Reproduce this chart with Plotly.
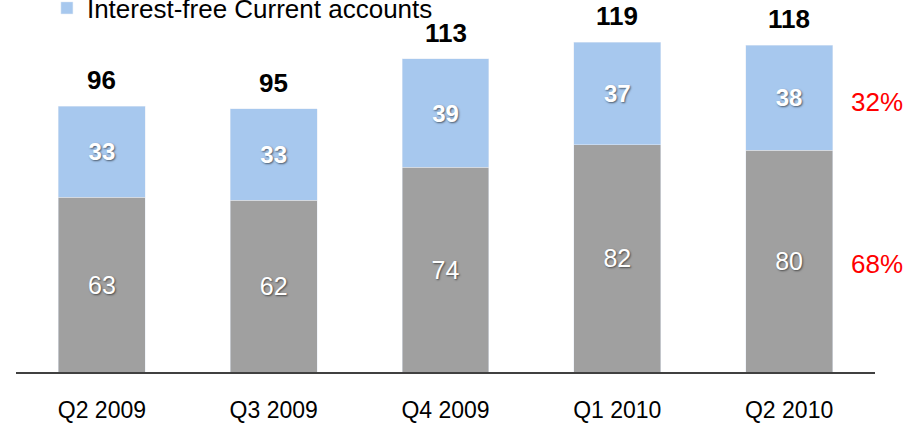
import plotly.graph_objects as go

categories = ["Q2 2009", "Q3 2009", "Q4 2009", "Q1 2010", "Q2 2010"]
other_values = [63, 62, 74, 82, 80]
interest_free = [33, 33, 39, 37, 38]
legend_label = "Interest-free Current accounts"

totals = [a + b for a, b in zip(other_values, interest_free)]

FONT = "Liberation Sans, Arial, sans-serif"
GRAY = "#A0A0A0"
BLUE = "#A7C8EE"
SHADOW = "1px 1px 2px rgba(0,0,0,0.55)"

fig = go.Figure()
fig.add_trace(go.Bar(
    x=categories, y=other_values, marker_color=GRAY, showlegend=False,
    text=[str(v) for v in other_values], textposition="inside",
    insidetextanchor="middle", textangle=0, constraintext="none",
    textfont=dict(family=FONT, size=25, color="white", shadow=SHADOW),
    hoverinfo="skip",
))
fig.add_trace(go.Bar(
    x=categories, y=interest_free, marker_color=BLUE, name=legend_label,
    text=[str(v) for v in interest_free], textposition="inside",
    insidetextanchor="middle", textangle=0, constraintext="none",
    textfont=dict(family=FONT, size=24, color="white", weight="bold", shadow=SHADOW),
    hoverinfo="skip",
))

annotations = []
for c, t in zip(categories, totals):
    annotations.append(dict(
        x=c, y=t, xref="x", yref="y", text=f"<b>{t}</b>", showarrow=False,
        yanchor="bottom", yshift=9, font=dict(family=FONT, size=26, color="black"),
    ))

last = len(categories) - 1
share_blue = round(100 * interest_free[last] / totals[last])
share_gray = 100 - share_blue
annotations.append(dict(
    x=last + 0.346, y=other_values[last] + interest_free[last] / 2, xref="x", yref="y",
    text=f"{share_blue}%", showarrow=False, xanchor="left", yshift=-4,
    font=dict(family=FONT, size=26, color="#FF0000"),
))
annotations.append(dict(
    x=last + 0.346, y=other_values[last] / 2, xref="x", yref="y",
    text=f"{share_gray}%", showarrow=False, xanchor="left", yshift=-3,
    font=dict(family=FONT, size=26, color="#FF0000"),
))

fig.update_layout(
    barmode="stack",
    bargap=0.494,
    width=907, height=423,
    margin=dict(l=16, r=32, t=0, b=51, autoexpand=False),
    paper_bgcolor="white", plot_bgcolor="white",
    font=dict(family=FONT, color="black"),
    showlegend=True,
    legend=dict(
        x=0.036, xanchor="left", y=1 - 8 / 372, yanchor="middle",
        font=dict(family=FONT, size=26, color="black"),
        bgcolor="rgba(0,0,0,0)", borderwidth=0,
        itemclick=False, itemdoubleclick=False,
    ),
    annotations=annotations,
    xaxis=dict(
        range=[-0.5, len(categories) - 0.5],
        showgrid=False, showline=True, linecolor="#404040", linewidth=1.5,
        ticks="", tickfont=dict(family=FONT, size=23, color="black"),
        ticklabelstandoff=17, fixedrange=True,
    ),
    yaxis=dict(
        range=[0, 372 / 2.77], visible=False, showgrid=False, zeroline=False,
        fixedrange=True,
    ),
)

fig.write_html(
    "out.html",
    config={"displayModeBar": False},
    post_script="document.body.style.margin='0';",
)
